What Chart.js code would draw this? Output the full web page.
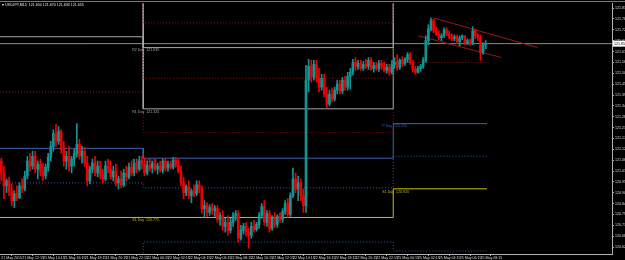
<!DOCTYPE html>
<html>
<head>
<meta charset="utf-8">
<script src="https://cdn.jsdelivr.net/npm/chart.js@4.4.1/dist/chart.umd.min.js"></script>
<style>
html,body{margin:0;padding:0;background:#000;}
#wrap{width:625px;height:260px;position:relative;}
</style>
</head>
<body>
<div id="wrap"><canvas id="chart"></canvas></div>
<script>
const symbol = "USDJPY,M15";

// USDJPY M15 candles, 21 May 10:15 .. 25 May 08:45
const opens = [
  121.060,121.000,120.935,120.960,120.910,120.860,120.895,120.875,120.935,120.920,
  120.985,121.060,121.035,121.085,121.020,121.045,121.010,120.985,121.030,121.080,
  121.135,121.200,121.160,121.210,121.120,121.060,121.085,121.035,121.070,121.100,
  121.145,121.085,121.110,121.050,120.960,121.020,121.050,121.000,121.035,120.990,
  120.970,121.035,121.020,120.980,121.010,120.950,120.970,120.940,121.000,120.980,
  121.030,121.000,121.050,121.020,121.060,
  121.045,121.000,121.040,121.025,121.050,121.020,121.035,121.015,121.060,121.025,
  121.045,121.030,121.065,121.040,121.010,120.950,120.900,120.930,120.885,120.910,
  120.895,120.940,120.920,120.820,120.835,120.800,120.825,120.810,120.820,120.765,
  120.785,120.730,120.750,120.710,120.750,120.785,120.795,120.670,120.710,120.730,
  120.700,120.685,120.730,120.715,120.740,120.785,120.830,120.750,120.795,120.720,
  120.770,120.740,120.780,120.765,120.805,120.845,120.790,120.885,120.970,120.920,
  120.950,120.885,120.835,121.470,121.540,121.485,121.550,121.480,121.435,121.480,
  121.400,121.350,121.400,121.375,121.420,121.450,121.415,121.470,121.435,121.490,
  121.510,121.560,121.540,121.555,121.530,121.550,121.540,121.570,121.530,121.545,
  121.530,121.555,121.540,121.520,121.535,121.510,
  121.550,121.560,121.535,121.570,121.555,121.575,121.600,121.560,121.525,121.510,
  121.530,121.540,121.570,121.670,121.730,121.770,121.720,121.705,121.685,121.695,
  121.725,121.705,121.690,121.680,121.690,121.665,121.685,121.695,121.660,121.670,
  121.655,121.720,121.695,121.685,121.610,121.650
];
const highs = [
  121.075,121.035,120.970,120.980,120.945,120.910,120.935,120.950,120.970,121.010,
  121.085,121.100,121.110,121.110,121.060,121.070,121.050,121.045,121.100,121.160,
  121.220,121.245,121.235,121.220,121.160,121.110,121.135,121.085,121.120,121.250,
  121.170,121.135,121.130,121.085,121.035,121.070,121.085,121.060,121.060,121.020,
  121.060,121.070,121.060,121.035,121.045,120.985,121.010,121.020,121.035,121.050,
  121.060,121.070,121.070,121.085,121.085,
  121.075,121.060,121.070,121.060,121.070,121.050,121.060,121.070,121.075,121.060,
  121.060,121.080,121.080,121.070,121.035,120.980,120.940,120.960,120.920,120.940,
  120.960,120.960,120.935,120.860,120.850,120.840,120.845,120.835,120.835,120.800,
  120.810,120.770,120.785,120.770,120.800,120.810,120.810,120.735,120.745,120.750,
  120.720,120.750,120.760,120.750,120.800,120.845,120.860,120.810,120.810,120.785,
  120.800,120.790,120.800,120.820,120.860,120.870,120.900,121.025,121.000,120.985,
  120.970,120.920,121.545,121.575,121.570,121.570,121.570,121.530,121.500,121.500,
  121.435,121.420,121.430,121.435,121.470,121.470,121.485,121.490,121.510,121.530,
  121.575,121.585,121.570,121.570,121.565,121.575,121.585,121.585,121.560,121.560,
  121.570,121.570,121.560,121.550,121.550,121.570,
  121.585,121.600,121.580,121.590,121.585,121.610,121.610,121.570,121.540,121.540,
  121.550,121.585,121.695,121.750,121.785,121.780,121.740,121.720,121.705,121.735,
  121.735,121.720,121.705,121.700,121.700,121.695,121.700,121.695,121.680,121.680,
  121.740,121.730,121.705,121.700,121.660,121.670
];
const lows = [
  120.960,120.870,120.900,120.885,120.835,120.825,120.860,120.870,120.900,120.910,
  120.970,121.010,121.020,121.000,120.970,120.985,120.960,120.970,121.010,121.060,
  121.110,121.135,121.145,121.100,121.035,121.020,121.010,121.000,121.035,121.080,
  121.070,121.050,121.035,120.935,120.945,121.000,120.985,120.980,120.970,120.950,
  120.960,121.000,120.970,120.960,120.935,120.920,120.925,120.930,120.960,120.970,
  120.985,120.985,121.000,121.010,121.020,
  120.985,120.990,121.010,121.000,121.010,120.995,121.005,121.000,121.010,121.010,
  121.020,121.020,121.030,121.000,120.935,120.870,120.885,120.870,120.850,120.880,
  120.885,120.900,120.795,120.775,120.780,120.785,120.790,120.780,120.750,120.735,
  120.710,120.700,120.685,120.695,120.730,120.760,120.650,120.660,120.690,120.680,
  120.620,120.670,120.700,120.705,120.720,120.770,120.735,120.730,120.700,120.710,
  120.725,120.725,120.750,120.750,120.790,120.775,120.780,120.875,120.900,120.860,
  120.860,120.800,120.800,121.410,121.460,121.470,121.460,121.410,121.420,121.385,
  121.330,121.340,121.360,121.365,121.400,121.400,121.400,121.420,121.420,121.425,
  121.495,121.520,121.525,121.520,121.520,121.530,121.525,121.520,121.510,121.520,
  121.515,121.525,121.510,121.505,121.495,121.500,
  121.530,121.520,121.525,121.540,121.545,121.560,121.550,121.510,121.500,121.505,
  121.515,121.530,121.560,121.650,121.720,121.710,121.695,121.675,121.670,121.685,
  121.695,121.680,121.670,121.670,121.655,121.645,121.675,121.650,121.650,121.645,
  121.650,121.680,121.670,121.570,121.600,121.630
];
const closes = [
  121.000,120.935,120.960,120.910,120.860,120.895,120.875,120.935,120.920,120.985,
  121.060,121.035,121.085,121.020,121.045,121.010,120.985,121.030,121.080,121.135,
  121.200,121.160,121.210,121.120,121.060,121.085,121.035,121.070,121.100,121.145,
  121.085,121.110,121.050,120.960,121.020,121.050,121.000,121.035,120.990,120.970,
  121.035,121.020,120.980,121.010,120.950,120.970,120.940,121.000,120.980,121.030,
  121.000,121.050,121.020,121.060,121.045,
  121.000,121.040,121.025,121.050,121.020,121.035,121.015,121.060,121.025,121.045,
  121.030,121.065,121.040,121.010,120.950,120.900,120.930,120.885,120.910,120.895,
  120.940,120.920,120.820,120.835,120.800,120.825,120.810,120.820,120.765,120.785,
  120.730,120.750,120.710,120.750,120.785,120.795,120.670,120.710,120.730,120.700,
  120.685,120.730,120.715,120.740,120.785,120.830,120.750,120.795,120.720,120.770,
  120.740,120.780,120.765,120.805,120.845,120.790,120.885,120.970,120.920,120.950,
  120.885,120.835,121.470,121.540,121.485,121.550,121.480,121.435,121.480,121.400,
  121.350,121.400,121.375,121.420,121.450,121.415,121.470,121.435,121.490,121.510,
  121.560,121.540,121.555,121.530,121.550,121.540,121.570,121.530,121.545,121.530,
  121.555,121.540,121.520,121.535,121.510,121.550,
  121.560,121.535,121.570,121.555,121.575,121.600,121.560,121.525,121.510,121.530,
  121.540,121.570,121.670,121.730,121.770,121.720,121.705,121.685,121.695,121.725,
  121.705,121.690,121.680,121.690,121.665,121.685,121.695,121.660,121.670,121.655,
  121.720,121.695,121.685,121.610,121.650,121.655
];

// time axis labels, one every 8 bars
const timeLabels = [
  "21 May 2015","21 May 12:15","21 May 14:15","21 May 16:15","21 May 18:15","21 May 20:15",
  "21 May 22:15","22 May 00:15","22 May 02:15","22 May 04:15","22 May 06:15","22 May 08:15",
  "22 May 10:15","22 May 12:15","22 May 14:15","22 May 16:15","22 May 18:15","22 May 20:15",
  "22 May 22:15","25 May 00:15","25 May 02:15","25 May 04:15","25 May 06:15","25 May 08:15"
];
const priceTicks = [
  121.835,121.780,121.725,121.670,121.615,121.560,121.505,121.450,121.395,121.340,121.285,121.230,
  121.175,121.120,121.065,121.010,120.955,120.900,120.845,120.790,120.735,120.680,120.625
];

// daily pivot levels: [21 May, 22 May, 25 May]
const dayEdges = [-0.5, 54.5, 150.5, 186.5];
const pivM3 = [122.500, 121.760, 122.350];
const pivR2 = [122.250, 121.635, 122.190];
const pivM2 = [121.970, 121.480, 122.030];
const pivR1 = [121.690, 121.325, 121.870];
const pivM1 = [121.410, 121.205, 121.560];
const pivP  = [121.125, 121.075, 121.250];
const pivM0 = [120.950, 120.925, 121.085];
const pivS1 = [120.775, 120.775, 120.920];
const pivMs = [120.560, 120.650, 120.605];

// channel trend lines drawn on the chart
const upperTrend = [{x: 166, y: 121.785}, {x: 206, y: 121.635}];
const lowerTrend = [{x: 160, y: 121.695}, {x: 192, y: 121.585}];

const slots = 235;
const bull = "#129494", bear = "#f00000";
const last = closes.length - 1;
const idx = closes.map((_, i) => i);
const colors = idx.map(i => closes[i] >= opens[i] ? bull : bear);

function stepLine(levels, color, dash) {
  const pts = [];
  levels.forEach((v, d) => {
    pts.push({x: dayEdges[d], y: v}, {x: dayEdges[d + 1], y: v});
  });
  return {type: 'line', data: pts, borderColor: color, borderWidth: 1, borderDash: dash,
    pointRadius: 0, tension: 0, fill: false, order: 3};
}
const grey = "#a8a8a8", maroon = "#9a0c0c", blue = "#3d62b0", blueDot = "#2f5aa8", olive = "#c8be10";

const overlay = {
  id: 'overlay',
  beforeDraw(chart) {
    const c = chart.ctx;
    c.save();
    c.fillStyle = '#000';
    c.fillRect(0, 0, chart.width, chart.height);
    c.restore();
  },
  afterDraw(chart) {
    const c = chart.ctx, x = chart.scales.x, y = chart.scales.y;
    c.save();
    c.fillStyle = '#7a7a7a';
    c.fillRect(0, 1, chart.width, 1);
    c.font = '3.6px "Liberation Sans"';
    c.textBaseline = 'middle';
    c.fillStyle = '#e8e8e8';
    c.fillText('\u25BE ' + symbol + '  ' + [opens[last], highs[last], lows[last], closes[last]].map(v => v.toFixed(3)).join(' '), 2, 5);
    const labels = [
      [1, pivR2, 'R2', grey], [1, pivR1, 'R1', grey], [1, pivP, 'P', blue], [1, pivS1, 'S1', olive],
      [2, pivP, 'P', blue], [2, pivS1, 'S1', olive]
    ];
    c.textBaseline = 'top';
    labels.forEach(([d, lv, name, col]) => {
      const px = x.getPixelForValue(dayEdges[d]) - 11;
      const py = y.getPixelForValue(lv[d]) + 1;
      c.fillStyle = col;
      c.fillText(name + ' Day  ' + lv[d].toFixed(3), px, py);
    });
    const cy = y.getPixelForValue(closes[last]);
    c.fillStyle = '#ffffff';
    c.fillRect(chart.chartArea.right + 1, cy - 3, 14, 6);
    c.fillStyle = '#000';
    c.textBaseline = 'middle';
    c.fillText(closes[last].toFixed(3), chart.chartArea.right + 2, cy);
    c.restore();
  }
};

new Chart(document.getElementById('chart'), {
  type: 'bar',
  data: {
    datasets: [
      {
        data: idx.map(i => ({x: i, y: [opens[i], closes[i]]})),
        backgroundColor: colors, borderWidth: 0, barThickness: 2, minBarLength: 1,
        grouped: false, order: 0
      },
      {
        data: idx.map(i => ({x: i, y: [lows[i], highs[i]]})),
        backgroundColor: colors, borderWidth: 0, barThickness: 1,
        grouped: false, order: 1
      },
      stepLine(pivM3, maroon, [1, 2]),
      stepLine(pivR2, grey, []),
      stepLine(pivM2, maroon, [1, 2]),
      stepLine(pivR1, grey, []),
      stepLine(pivM1, maroon, [1, 2]),
      stepLine(pivP, blue, []),
      stepLine(pivM0, blueDot, [1, 2]),
      stepLine(pivS1, olive, []),
      stepLine(pivMs, blueDot, [1, 2]),
      {type: 'line', data: [{x: -0.5, y: closes[last]}, {x: slots - 0.5, y: closes[last]}],
        borderColor: '#8c8c8c', borderWidth: 1, pointRadius: 0, order: 4},
      {type: 'line', data: upperTrend, borderColor: '#a01414', borderWidth: 1, pointRadius: 0, order: 2},
      {type: 'line', data: lowerTrend, borderColor: '#a01414', borderWidth: 1, pointRadius: 0, order: 2}
    ]
  },
  options: {
    responsive: true,
    maintainAspectRatio: false,
    animation: false,
    events: [],
    layout: {padding: 0},
    plugins: {legend: {display: false}, tooltip: {enabled: false}},
    scales: {
      x: {
        type: 'linear', min: -0.5, max: slots - 0.5, offset: false,
        afterBuildTicks(s) { s.ticks = timeLabels.map((_, k) => ({value: k * 8})); },
        afterFit(s) { s.height = 6; },
        ticks: {
          autoSkip: false, maxRotation: 0, minRotation: 0, align: 'start', padding: 0,
          color: '#dcdcdc', font: {size: 3.6, family: 'Liberation Sans'},
          callback: (v, k) => timeLabels[k]
        },
        grid: {display: true, drawOnChartArea: false, tickLength: 2, color: '#b0b0b0'},
        border: {display: true, color: '#b0b0b0'}
      },
      y: {
        position: 'right', min: 120.59, max: 121.86,
        afterBuildTicks(s) { s.ticks = priceTicks.map(v => ({value: v})); },
        afterFit(s) { s.width = 13; },
        ticks: {
          autoSkip: false, padding: 1, color: '#dcdcdc', font: {size: 3.6, family: 'Liberation Sans'},
          callback: v => v.toFixed(3)
        },
        grid: {display: true, drawOnChartArea: false, tickLength: 2, color: '#b0b0b0'},
        border: {display: true, color: '#b0b0b0'}
      }
    }
  },
  plugins: [overlay]
});
</script>
</body>
</html>
